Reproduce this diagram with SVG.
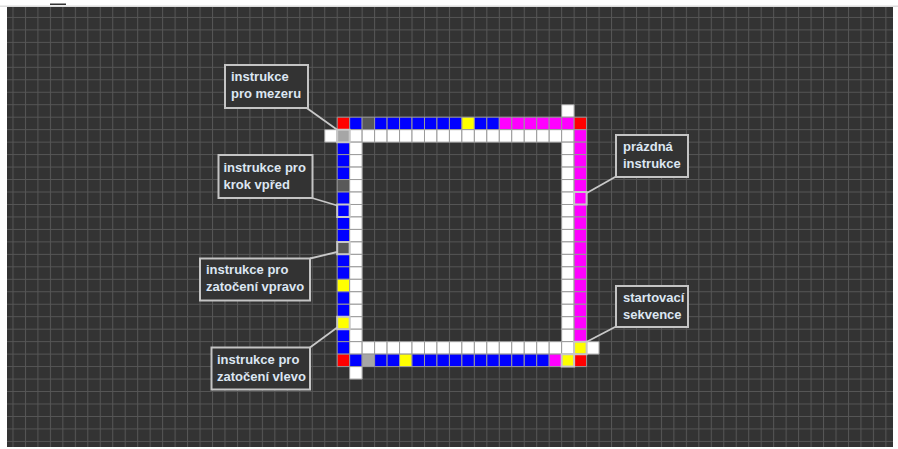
<svg xmlns="http://www.w3.org/2000/svg" xmlns:xlink="http://www.w3.org/1999/xlink" width="898" height="449" viewBox="0 0 898 449">
<style>
.c{stroke:#9a9a9a;stroke-width:1;vector-effect:non-scaling-stroke}
.W{fill:#ffffff}.B{fill:#0000ff}.R{fill:#ff0000}.Y{fill:#ffff00}.M{fill:#ff00ff}.D{fill:#595959}.L{fill:#a6a6a6}
.hl{fill:none;stroke:#c8c8c8;stroke-width:2;vector-effect:non-scaling-stroke}
.box{fill:#333333;stroke:#c4c4c4;stroke-width:2}
.t{font-family:"Liberation Sans",Arial,sans-serif;font-weight:bold;font-size:13px;fill:#dce6f2}
.lead{stroke:#c8c8c8;stroke-width:1.8;fill:none}
</style>
<defs>
<pattern id="grid" patternUnits="userSpaceOnUse" x="12.48" y="4.47" width="12.47" height="12.47">
<path d="M0 0.5H12.47M0.5 0V12.47" stroke="#565656" stroke-width="1" fill="none"/>
</pattern>
</defs>
<rect width="898" height="449" fill="#ffffff"/>
<rect x="0" y="5.5" width="898" height="1.5" fill="#dcdcdc"/>
<rect x="50" y="3.5" width="16" height="1.5" fill="#333333"/>
<rect x="7" y="7" width="886" height="440" fill="#333333"/>
<rect x="7" y="7" width="886" height="440" fill="url(#grid)"/>

<g id="cells" transform="translate(337.2 117.2) scale(12.47)">
<!-- row -1 -->
<rect class="c W" x="18" y="-1" width="1" height="1"/>
<!-- row 0 -->
<rect class="c R" x="0" y="0" width="1" height="1"/>
<rect class="c B" x="1" y="0" width="1" height="1"/>
<rect class="c D" x="2" y="0" width="1" height="1"/>
<rect class="c B" x="3" y="0" width="1" height="1"/>
<rect class="c B" x="4" y="0" width="1" height="1"/>
<rect class="c B" x="5" y="0" width="1" height="1"/>
<rect class="c B" x="6" y="0" width="1" height="1"/>
<rect class="c B" x="7" y="0" width="1" height="1"/>
<rect class="c B" x="8" y="0" width="1" height="1"/>
<rect class="c B" x="9" y="0" width="1" height="1"/>
<rect class="c Y" x="10" y="0" width="1" height="1"/>
<rect class="c B" x="11" y="0" width="1" height="1"/>
<rect class="c B" x="12" y="0" width="1" height="1"/>
<rect class="c M" x="13" y="0" width="1" height="1"/>
<rect class="c M" x="14" y="0" width="1" height="1"/>
<rect class="c M" x="15" y="0" width="1" height="1"/>
<rect class="c M" x="16" y="0" width="1" height="1"/>
<rect class="c M" x="17" y="0" width="1" height="1"/>
<rect class="c M" x="18" y="0" width="1" height="1"/>
<rect class="c R" x="19" y="0" width="1" height="1"/>
<!-- row 1 -->
<rect class="c W" x="-1" y="1" width="1" height="1"/>
<rect class="c L" x="0" y="1" width="1" height="1"/>
<rect class="c W" x="1" y="1" width="1" height="1"/>
<rect class="c W" x="2" y="1" width="1" height="1"/>
<rect class="c W" x="3" y="1" width="1" height="1"/>
<rect class="c W" x="4" y="1" width="1" height="1"/>
<rect class="c W" x="5" y="1" width="1" height="1"/>
<rect class="c W" x="6" y="1" width="1" height="1"/>
<rect class="c W" x="7" y="1" width="1" height="1"/>
<rect class="c W" x="8" y="1" width="1" height="1"/>
<rect class="c W" x="9" y="1" width="1" height="1"/>
<rect class="c W" x="10" y="1" width="1" height="1"/>
<rect class="c W" x="11" y="1" width="1" height="1"/>
<rect class="c W" x="12" y="1" width="1" height="1"/>
<rect class="c W" x="13" y="1" width="1" height="1"/>
<rect class="c W" x="14" y="1" width="1" height="1"/>
<rect class="c W" x="15" y="1" width="1" height="1"/>
<rect class="c W" x="16" y="1" width="1" height="1"/>
<rect class="c W" x="17" y="1" width="1" height="1"/>
<rect class="c W" x="18" y="1" width="1" height="1"/>
<rect class="c M" x="19" y="1" width="1" height="1"/>
<!-- left column col 0 -->
<rect class="c B" x="0" y="2" width="1" height="1"/>
<rect class="c B" x="0" y="3" width="1" height="1"/>
<rect class="c B" x="0" y="4" width="1" height="1"/>
<rect class="c D" x="0" y="5" width="1" height="1"/>
<rect class="c B" x="0" y="6" width="1" height="1"/>
<rect class="c B" x="0" y="7" width="1" height="1"/>
<rect class="c B" x="0" y="8" width="1" height="1"/>
<rect class="c B" x="0" y="9" width="1" height="1"/>
<rect class="c D" x="0" y="10" width="1" height="1"/>
<rect class="c B" x="0" y="11" width="1" height="1"/>
<rect class="c B" x="0" y="12" width="1" height="1"/>
<rect class="c Y" x="0" y="13" width="1" height="1"/>
<rect class="c B" x="0" y="14" width="1" height="1"/>
<rect class="c B" x="0" y="15" width="1" height="1"/>
<rect class="c Y" x="0" y="16" width="1" height="1"/>
<rect class="c B" x="0" y="17" width="1" height="1"/>
<rect class="c B" x="0" y="18" width="1" height="1"/>
<!-- inner left col 1 -->
<rect class="c W" x="1" y="2" width="1" height="1"/>
<rect class="c W" x="1" y="3" width="1" height="1"/>
<rect class="c W" x="1" y="4" width="1" height="1"/>
<rect class="c W" x="1" y="5" width="1" height="1"/>
<rect class="c W" x="1" y="6" width="1" height="1"/>
<rect class="c W" x="1" y="7" width="1" height="1"/>
<rect class="c W" x="1" y="8" width="1" height="1"/>
<rect class="c W" x="1" y="9" width="1" height="1"/>
<rect class="c W" x="1" y="10" width="1" height="1"/>
<rect class="c W" x="1" y="11" width="1" height="1"/>
<rect class="c W" x="1" y="12" width="1" height="1"/>
<rect class="c W" x="1" y="13" width="1" height="1"/>
<rect class="c W" x="1" y="14" width="1" height="1"/>
<rect class="c W" x="1" y="15" width="1" height="1"/>
<rect class="c W" x="1" y="16" width="1" height="1"/>
<rect class="c W" x="1" y="17" width="1" height="1"/>
<!-- inner right col 18 -->
<rect class="c W" x="18" y="2" width="1" height="1"/>
<rect class="c W" x="18" y="3" width="1" height="1"/>
<rect class="c W" x="18" y="4" width="1" height="1"/>
<rect class="c W" x="18" y="5" width="1" height="1"/>
<rect class="c W" x="18" y="6" width="1" height="1"/>
<rect class="c W" x="18" y="7" width="1" height="1"/>
<rect class="c W" x="18" y="8" width="1" height="1"/>
<rect class="c W" x="18" y="9" width="1" height="1"/>
<rect class="c W" x="18" y="10" width="1" height="1"/>
<rect class="c W" x="18" y="11" width="1" height="1"/>
<rect class="c W" x="18" y="12" width="1" height="1"/>
<rect class="c W" x="18" y="13" width="1" height="1"/>
<rect class="c W" x="18" y="14" width="1" height="1"/>
<rect class="c W" x="18" y="15" width="1" height="1"/>
<rect class="c W" x="18" y="16" width="1" height="1"/>
<rect class="c W" x="18" y="17" width="1" height="1"/>
<!-- right column col 19 -->
<rect class="c M" x="19" y="2" width="1" height="1"/>
<rect class="c M" x="19" y="3" width="1" height="1"/>
<rect class="c M" x="19" y="4" width="1" height="1"/>
<rect class="c M" x="19" y="5" width="1" height="1"/>
<rect class="c M" x="19" y="6" width="1" height="1"/>
<rect class="c M" x="19" y="7" width="1" height="1"/>
<rect class="c M" x="19" y="8" width="1" height="1"/>
<rect class="c M" x="19" y="9" width="1" height="1"/>
<rect class="c M" x="19" y="10" width="1" height="1"/>
<rect class="c M" x="19" y="11" width="1" height="1"/>
<rect class="c M" x="19" y="12" width="1" height="1"/>
<rect class="c M" x="19" y="13" width="1" height="1"/>
<rect class="c M" x="19" y="14" width="1" height="1"/>
<rect class="c M" x="19" y="15" width="1" height="1"/>
<rect class="c M" x="19" y="16" width="1" height="1"/>
<rect class="c M" x="19" y="17" width="1" height="1"/>
<!-- row 18 -->
<rect class="c W" x="1" y="18" width="1" height="1"/>
<rect class="c W" x="2" y="18" width="1" height="1"/>
<rect class="c W" x="3" y="18" width="1" height="1"/>
<rect class="c W" x="4" y="18" width="1" height="1"/>
<rect class="c W" x="5" y="18" width="1" height="1"/>
<rect class="c W" x="6" y="18" width="1" height="1"/>
<rect class="c W" x="7" y="18" width="1" height="1"/>
<rect class="c W" x="8" y="18" width="1" height="1"/>
<rect class="c W" x="9" y="18" width="1" height="1"/>
<rect class="c W" x="10" y="18" width="1" height="1"/>
<rect class="c W" x="11" y="18" width="1" height="1"/>
<rect class="c W" x="12" y="18" width="1" height="1"/>
<rect class="c W" x="13" y="18" width="1" height="1"/>
<rect class="c W" x="14" y="18" width="1" height="1"/>
<rect class="c W" x="15" y="18" width="1" height="1"/>
<rect class="c W" x="16" y="18" width="1" height="1"/>
<rect class="c W" x="17" y="18" width="1" height="1"/>
<rect class="c W" x="18" y="18" width="1" height="1"/>
<rect class="c Y" x="19" y="18" width="1" height="1"/>
<rect class="c W" x="20" y="18" width="1" height="1"/>
<!-- row 19 -->
<rect class="c R" x="0" y="19" width="1" height="1"/>
<rect class="c B" x="1" y="19" width="1" height="1"/>
<rect class="c L" x="2" y="19" width="1" height="1"/>
<rect class="c B" x="3" y="19" width="1" height="1"/>
<rect class="c B" x="4" y="19" width="1" height="1"/>
<rect class="c Y" x="5" y="19" width="1" height="1"/>
<rect class="c B" x="6" y="19" width="1" height="1"/>
<rect class="c B" x="7" y="19" width="1" height="1"/>
<rect class="c B" x="8" y="19" width="1" height="1"/>
<rect class="c B" x="9" y="19" width="1" height="1"/>
<rect class="c B" x="10" y="19" width="1" height="1"/>
<rect class="c B" x="11" y="19" width="1" height="1"/>
<rect class="c B" x="12" y="19" width="1" height="1"/>
<rect class="c B" x="13" y="19" width="1" height="1"/>
<rect class="c B" x="14" y="19" width="1" height="1"/>
<rect class="c B" x="15" y="19" width="1" height="1"/>
<rect class="c B" x="16" y="19" width="1" height="1"/>
<rect class="c M" x="17" y="19" width="1" height="1"/>
<rect class="c Y" x="18" y="19" width="1" height="1"/>
<rect class="c R" x="19" y="19" width="1" height="1"/>
<!-- row 20 -->
<rect class="c W" x="1" y="20" width="1" height="1"/>
<!-- highlights -->
<rect class="hl" x="0" y="1" width="1" height="1"/>
<rect class="hl" x="0" y="7" width="1" height="1"/>
<rect class="hl" x="0" y="10" width="1" height="1"/>
<rect class="hl" x="0" y="16" width="1" height="1"/>
<rect class="hl" x="19" y="6" width="1" height="1"/>
<rect class="hl" x="19" y="18" width="1" height="1"/>
<rect class="hl" x="18" y="19" width="1" height="1"/>
</g>

<g id="connectors">
<line class="lead" x1="306" y1="107.5" x2="337.5" y2="130"/>
<line class="lead" x1="312" y1="198" x2="337.2" y2="205.5"/>
<line class="lead" x1="310" y1="258.5" x2="337.2" y2="252"/>
<line class="lead" x1="310" y1="347.5" x2="337.2" y2="327.5"/>
<line class="lead" x1="616" y1="176.5" x2="586.8" y2="193"/>
<line class="lead" x1="616" y1="326.5" x2="586.8" y2="341.8"/>
</g>

<g id="note-mezera">
<rect class="box" x="225" y="65" width="83" height="43"/>
<text class="t" x="231" y="80.5">instrukce</text>
<text class="t" x="231" y="98">pro mezeru</text>
</g>
<g id="note-krok">
<rect class="box" x="218.5" y="155" width="94" height="43"/>
<text class="t" x="223.5" y="171.5">instrukce pro</text>
<text class="t" x="223.5" y="188.5">krok vpřed</text>
</g>
<g id="note-vpravo">
<rect class="box" x="200" y="258.5" width="110" height="42"/>
<text class="t" x="206" y="274">instrukce pro</text>
<text class="t" x="206" y="291">zatočení vpravo</text>
</g>
<g id="note-vlevo">
<rect class="box" x="211.5" y="347.5" width="98.5" height="42"/>
<text class="t" x="217" y="364">instrukce pro</text>
<text class="t" x="217" y="381">zatočení vlevo</text>
</g>
<g id="note-prazdna">
<rect class="box" x="616" y="135" width="72" height="42"/>
<text class="t" x="623" y="151">prázdná</text>
<text class="t" x="623" y="167.5">instrukce</text>
</g>
<g id="note-start">
<rect class="box" x="616" y="286" width="72" height="41"/>
<text class="t" x="623" y="302">startovací</text>
<text class="t" x="623" y="318.5">sekvence</text>
</g>
</svg>
